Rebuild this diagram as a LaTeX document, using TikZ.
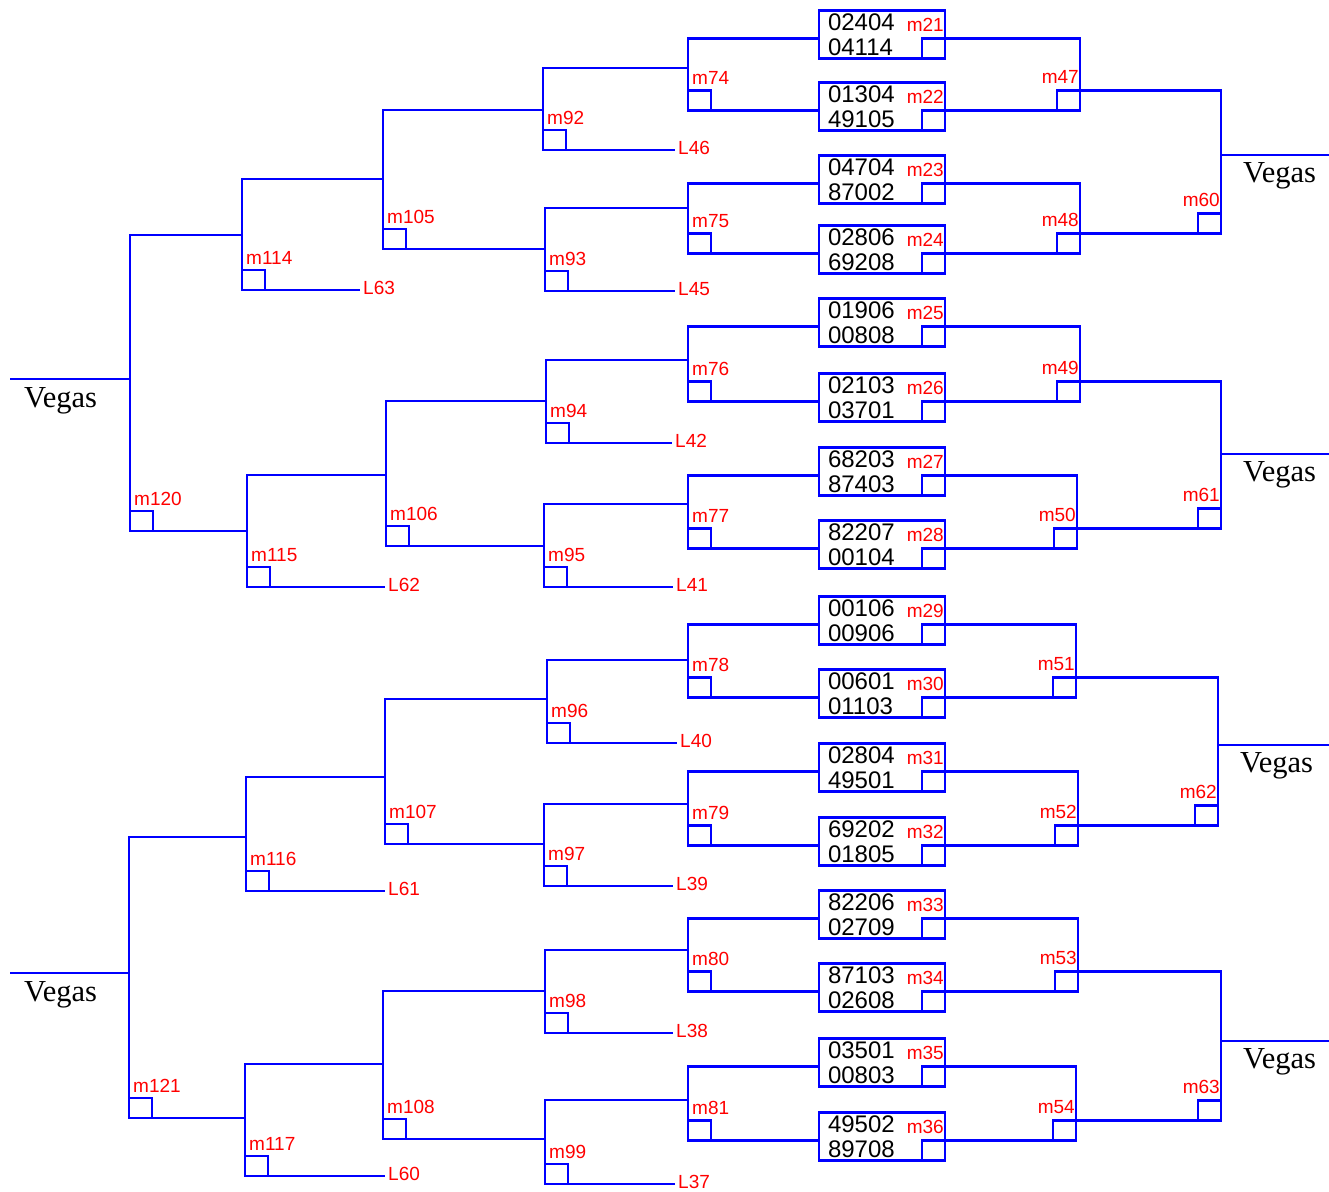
\documentclass[tikz,border=0pt]{standalone}
\usepackage{fontspec}
\setmainfont{Liberation Serif}
\newfontfamily\arialfont{Liberation Sans}
\usetikzlibrary{positioning}
\newcommand{\numfont}{\arialfont\fontsize{24}{25}\selectfont}
\newcommand{\labfont}{\arialfont\fontsize{19}{20}\selectfont}
\newcommand{\vegfont}{\fontsize{30.5}{31}\selectfont}
\tikzset{
  wire/.style  = {draw=blue, line width=2.2pt},
  jbox/.style  = {draw=blue, line width=2.8pt, minimum width=23pt, minimum height=20pt,
                  inner sep=0pt, outer sep=0pt},
  jl/.style    = {jbox, anchor=south west},
  jr/.style    = {jbox, anchor=south east},
  llab/.style  = {text=red, font=\labfont, inner sep=0pt, anchor=base west, xshift=4pt, yshift=6pt},
  rlab/.style  = {text=red, font=\labfont, inner sep=0pt, anchor=base east, xshift=-1pt, yshift=7pt},
  blab/.style  = {text=red, font=\labfont, inner sep=0pt, anchor=base east, xshift=-1pt, yshift=-21pt},
  leaf/.style  = {text=red, font=\labfont, inner sep=0pt, anchor=base west, xshift=3pt, yshift=-4pt},
  team/.style  = {draw=blue, line width=2.8pt, minimum width=125pt, minimum height=48pt,
                  text width=108pt, inner xsep=9pt, inner ysep=0pt, outer sep=0pt,
                  align=left, font=\numfont},
  vegas/.style = {font=\vegfont, inner sep=0pt, anchor=base west},
}

\begin{document}
\begin{tikzpicture}[x=1pt, y=-1pt]
  \useasboundingbox (0,0) rectangle (1329,1191);

  % first round: the pairs
  \node[team, label={[blab]north east:m21}] (b21) at (882,34.5)   {02404\\04114};
  \node[team, label={[blab]north east:m22}] (b22) at (882,106.5)  {01304\\49105};
  \node[team, label={[blab]north east:m23}] (b23) at (882,179.5)  {04704\\87002};
  \node[team, label={[blab]north east:m24}] (b24) at (882,249.5)  {02806\\69208};
  \node[team, label={[blab]north east:m25}] (b25) at (882,322.5)  {01906\\00808};
  \node[team, label={[blab]north east:m26}] (b26) at (882,397.5)  {02103\\03701};
  \node[team, label={[blab]north east:m27}] (b27) at (882,471.5)  {68203\\87403};
  \node[team, label={[blab]north east:m28}] (b28) at (882,544.5)  {82207\\00104};
  \node[team, label={[blab]north east:m29}] (b29) at (882,620.5)  {00106\\00906};
  \node[team, label={[blab]north east:m30}] (b30) at (882,693.5)  {00601\\01103};
  \node[team, label={[blab]north east:m31}] (b31) at (882,767.5)  {02804\\49501};
  \node[team, label={[blab]north east:m32}] (b32) at (882,841.5)  {69202\\01805};
  \node[team, label={[blab]north east:m33}] (b33) at (882,914.5)  {82206\\02709};
  \node[team, label={[blab]north east:m34}] (b34) at (882,987.5)  {87103\\02608};
  \node[team, label={[blab]north east:m35}] (b35) at (882,1062.5) {03501\\00803};
  \node[team, label={[blab]north east:m36}] (b36) at (882,1136.5) {49502\\89708};
  \node[jr] (m21) at (b21.south east) {};
  \node[jr] (m22) at (b22.south east) {};
  \node[jr] (m23) at (b23.south east) {};
  \node[jr] (m24) at (b24.south east) {};
  \node[jr] (m25) at (b25.south east) {};
  \node[jr] (m26) at (b26.south east) {};
  \node[jr] (m27) at (b27.south east) {};
  \node[jr] (m28) at (b28.south east) {};
  \node[jr] (m29) at (b29.south east) {};
  \node[jr] (m30) at (b30.south east) {};
  \node[jr] (m31) at (b31.south east) {};
  \node[jr] (m32) at (b32.south east) {};
  \node[jr] (m33) at (b33.south east) {};
  \node[jr] (m34) at (b34.south east) {};
  \node[jr] (m35) at (b35.south east) {};
  \node[jr] (m36) at (b36.south east) {};

  % left tree: junctions
  \node[jl, label={[llab]north west:m120}] (m120) at (130,531) {};
  \node[jl, label={[llab]north west:m114}] (m114) at (242,290) {};
  \node[jl, label={[llab]north west:m105}] (m105) at (383,249) {};
  \node[jl, label={[llab]north west:m92}]  (m92)  at (543,150) {};
  \node[jl, label={[llab]north west:m74}]  (m74)  at (m22.north -| 688,0) {};
  \node[jl, label={[llab]north west:m93}]  (m93)  at (545,291) {};
  \node[jl, label={[llab]north west:m75}]  (m75)  at (m24.north -| 688,0) {};
  \node[jl, label={[llab]north west:m115}] (m115) at (247,587) {};
  \node[jl, label={[llab]north west:m106}] (m106) at (386,546) {};
  \node[jl, label={[llab]north west:m94}]  (m94)  at (546,443) {};
  \node[jl, label={[llab]north west:m76}]  (m76)  at (m26.north -| 688,0) {};
  \node[jl, label={[llab]north west:m95}]  (m95)  at (544,587) {};
  \node[jl, label={[llab]north west:m77}]  (m77)  at (m28.north -| 688,0) {};
  \node[jl, label={[llab]north west:m121}] (m121) at (129,1118) {};
  \node[jl, label={[llab]north west:m116}] (m116) at (246,891) {};
  \node[jl, label={[llab]north west:m107}] (m107) at (385,844) {};
  \node[jl, label={[llab]north west:m96}]  (m96)  at (547,743) {};
  \node[jl, label={[llab]north west:m78}]  (m78)  at (m30.north -| 688,0) {};
  \node[jl, label={[llab]north west:m97}]  (m97)  at (544,886) {};
  \node[jl, label={[llab]north west:m79}]  (m79)  at (m32.north -| 688,0) {};
  \node[jl, label={[llab]north west:m117}] (m117) at (245,1176) {};
  \node[jl, label={[llab]north west:m108}] (m108) at (383,1139) {};
  \node[jl, label={[llab]north west:m98}]  (m98)  at (545,1033) {};
  \node[jl, label={[llab]north west:m80}]  (m80)  at (m34.north -| 688,0) {};
  \node[jl, label={[llab]north west:m99}]  (m99)  at (545,1184) {};
  \node[jl, label={[llab]north west:m81}]  (m81)  at (m36.north -| 688,0) {};

  % where the parent line comes in
  \coordinate (m120-in) at (130,379);
  \coordinate (m114-in) at (242,235);
  \coordinate (m105-in) at (383,179);
  \coordinate (m92-in)  at (543,110);
  \coordinate (m74-in)  at (688,68);
  \coordinate (m93-in)  at (545,249);
  \coordinate (m75-in)  at (688,208);
  \coordinate (m115-in) at (247,531);
  \coordinate (m106-in) at (386,475);
  \coordinate (m94-in)  at (546,401);
  \coordinate (m76-in)  at (688,360);
  \coordinate (m95-in)  at (544,546);
  \coordinate (m77-in)  at (688,504);
  \coordinate (m121-in) at (129,973);
  \coordinate (m116-in) at (246,837);
  \coordinate (m107-in) at (385,777);
  \coordinate (m96-in)  at (547,699);
  \coordinate (m78-in)  at (688,660);
  \coordinate (m97-in)  at (544,844);
  \coordinate (m79-in)  at (688,804);
  \coordinate (m117-in) at (245,1118);
  \coordinate (m108-in) at (383,1064);
  \coordinate (m98-in)  at (545,991);
  \coordinate (m80-in)  at (688,950);
  \coordinate (m99-in)  at (545,1139);
  \coordinate (m81-in)  at (688,1100);

  % losers
  \coordinate (e63) at (360,290);  \node[leaf] (L63) at (e63) {L63};
  \coordinate (e46) at (675,150);  \node[leaf] (L46) at (e46) {L46};
  \coordinate (e45) at (675,291);  \node[leaf] (L45) at (e45) {L45};
  \coordinate (e62) at (385,587);  \node[leaf] (L62) at (e62) {L62};
  \coordinate (e42) at (672,443);  \node[leaf] (L42) at (e42) {L42};
  \coordinate (e41) at (673,587);  \node[leaf] (L41) at (e41) {L41};
  \coordinate (e61) at (385,891);  \node[leaf] (L61) at (e61) {L61};
  \coordinate (e40) at (677,743);  \node[leaf] (L40) at (e40) {L40};
  \coordinate (e39) at (673,886);  \node[leaf] (L39) at (e39) {L39};
  \coordinate (e60) at (385,1176); \node[leaf] (L60) at (e60) {L60};
  \coordinate (e38) at (673,1033); \node[leaf] (L38) at (e38) {L38};
  \coordinate (e37) at (675,1184); \node[leaf] (L37) at (e37) {L37};

  % left brackets
  \draw[wire] (m114-in) -| (m120.south west) -- (m115-in);
  \draw[wire] (m105-in) -| (m114.south west) -- (e63);
  \draw[wire] (m92-in)  -| (m105.south west) -- (m93-in);
  \draw[wire] (m74-in)  -| (m92.south west)  -- (e46);
  \draw[wire] (b21.west |- m21.north) -| (m74.south west) -- (b22.west |- m22.north);
  \draw[wire] (m75-in)  -| (m93.south west)  -- (e45);
  \draw[wire] (b23.west |- m23.north) -| (m75.south west) -- (b24.west |- m24.north);
  \draw[wire] (m106-in) -| (m115.south west) -- (e62);
  \draw[wire] (m94-in)  -| (m106.south west) -- (m95-in);
  \draw[wire] (m76-in)  -| (m94.south west)  -- (e42);
  \draw[wire] (b25.west |- m25.north) -| (m76.south west) -- (b26.west |- m26.north);
  \draw[wire] (m77-in)  -| (m95.south west)  -- (e41);
  \draw[wire] (b27.west |- m27.north) -| (m77.south west) -- (b28.west |- m28.north);
  \draw[wire] (m116-in) -| (m121.south west) -- (m117-in);
  \draw[wire] (m107-in) -| (m116.south west) -- (e61);
  \draw[wire] (m96-in)  -| (m107.south west) -- (m97-in);
  \draw[wire] (m78-in)  -| (m96.south west)  -- (e40);
  \draw[wire] (b29.west |- m29.north) -| (m78.south west) -- (b30.west |- m30.north);
  \draw[wire] (m79-in)  -| (m97.south west)  -- (e39);
  \draw[wire] (b31.west |- m31.north) -| (m79.south west) -- (b32.west |- m32.north);
  \draw[wire] (m108-in) -| (m117.south west) -- (e60);
  \draw[wire] (m98-in)  -| (m108.south west) -- (m99-in);
  \draw[wire] (m80-in)  -| (m98.south west)  -- (e38);
  \draw[wire] (b33.west |- m33.north) -| (m80.south west) -- (b34.west |- m34.north);
  \draw[wire] (m81-in)  -| (m99.south west)  -- (e37);
  \draw[wire] (b35.west |- m35.north) -| (m81.south west) -- (b36.west |- m36.north);

  % right tree
  \node[jr, label={[rlab]north east:m47}] (m47) at (m22.north -| 1080,0) {};
  \node[jr, label={[rlab]north east:m48}] (m48) at (m24.north -| 1080,0) {};
  \node[jr, label={[rlab]north east:m49}] (m49) at (m26.north -| 1080,0) {};
  \node[jr, label={[rlab]north east:m50}] (m50) at (m28.north -| 1077,0) {};
  \node[jr, label={[rlab]north east:m51}] (m51) at (m30.north -| 1076,0) {};
  \node[jr, label={[rlab]north east:m52}] (m52) at (m32.north -| 1078,0) {};
  \node[jr, label={[rlab]north east:m53}] (m53) at (m34.north -| 1078,0) {};
  \node[jr, label={[rlab]north east:m54}] (m54) at (m36.north -| 1076,0) {};
  \node[jr, label={[rlab]north east:m60}] (m60) at (m48.north -| 1221,0) {};
  \node[jr, label={[rlab]north east:m61}] (m61) at (m50.north -| 1221,0) {};
  \node[jr, label={[rlab]north east:m62}] (m62) at (m52.north -| 1218,0) {};
  \node[jr, label={[rlab]north east:m63}] (m63) at (m54.north -| 1221,0) {};
  \draw[wire] (m21.north east) -| (m47.south east) -- (m22.north east);
  \draw[wire] (m23.north east) -| (m48.south east) -- (m24.north east);
  \draw[wire] (m25.north east) -| (m49.south east) -- (m26.north east);
  \draw[wire] (m27.north east) -| (m50.south east) -- (m28.north east);
  \draw[wire] (m29.north east) -| (m51.south east) -- (m30.north east);
  \draw[wire] (m31.north east) -| (m52.south east) -- (m32.north east);
  \draw[wire] (m33.north east) -| (m53.south east) -- (m34.north east);
  \draw[wire] (m35.north east) -| (m54.south east) -- (m36.north east);
  \draw[wire] (m47.north east) -| (m60.south east) -- (m48.north east);
  \draw[wire] (m49.north east) -| (m61.south east) -- (m50.north east);
  \draw[wire] (m51.north east) -| (m62.south east) -- (m52.north east);
  \draw[wire] (m53.north east) -| (m63.south east) -- (m54.north east);

  % Vegas ends
  \coordinate (v120) at (10,379);
  \coordinate (v121) at (10,973);
  \coordinate (v60)  at (1221,155);  \coordinate (w60) at (1329,155);
  \coordinate (v61)  at (1221,454);  \coordinate (w61) at (1329,454);
  \coordinate (v62)  at (1218,745);  \coordinate (w62) at (1329,745);
  \coordinate (v63)  at (1221,1041); \coordinate (w63) at (1329,1041);
  \draw[wire] (v120) -- (m120-in);
  \draw[wire] (v121) -- (m121-in);
  \draw[wire] (v60) -- (w60);
  \draw[wire] (v61) -- (w61);
  \draw[wire] (v62) -- (w62);
  \draw[wire] (v63) -- (w63);
  \node[vegas] (t120) at ([shift={(14,28)}]v120) {Vegas};
  \node[vegas] (t121) at ([shift={(14,28)}]v121) {Vegas};
  \node[vegas] (t60)  at ([shift={(22,27)}]v60)  {Vegas};
  \node[vegas] (t61)  at ([shift={(22,27)}]v61)  {Vegas};
  \node[vegas] (t62)  at ([shift={(22,27)}]v62)  {Vegas};
  \node[vegas] (t63)  at ([shift={(22,27)}]v63)  {Vegas};
\end{tikzpicture}
\end{document}
